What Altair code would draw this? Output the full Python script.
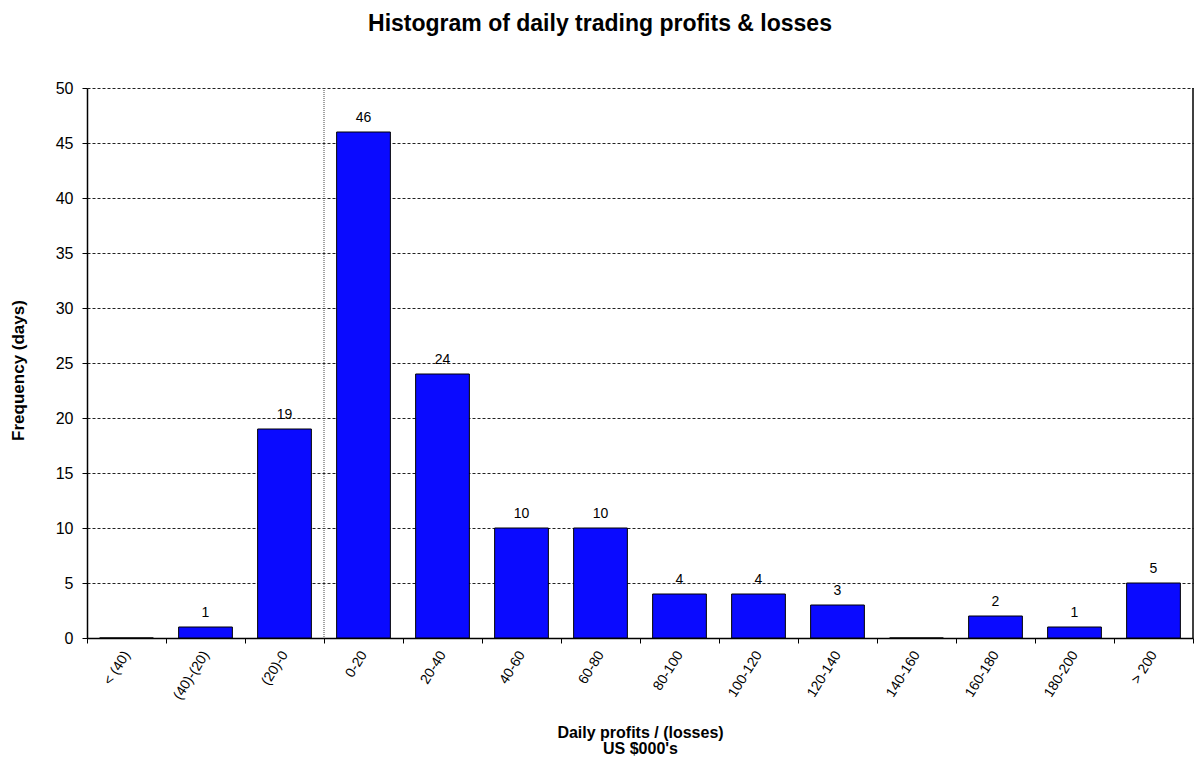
import altair as alt
import pandas as pd

categories = ["< (40)", "(40)-(20)", "(20)-0", "0-20", "20-40", "40-60", "60-80",
              "80-100", "100-120", "120-140", "140-160", "160-180", "180-200", "> 200"]
frequency = [0, 1, 19, 46, 24, 10, 10, 4, 4, 3, 0, 2, 1, 5]

df = pd.DataFrame({"cat": categories, "freq": frequency})
sep_df = pd.DataFrame({"cat": ["0-20"]})
edge_df = pd.DataFrame({"cat": ["> 200"]})

FONT = "Liberation Sans"

xscale = alt.Scale(paddingInner=0, paddingOuter=0)

x_axis = alt.Axis(
    labelAngle=-58, labelAlign="right", labelBaseline="middle",
    labelFontSize=14, labelPadding=9, labelColor="#000",
    tickBand="extent", tickSize=5, tickColor="#000",
    domainColor="#000", domainWidth=1.5, grid=False,
    title=["Daily profits / (losses)", "US $000's"],
    titleFontSize=16, titleFontWeight="bold", titleColor="#000",
    titleY=86, titleBaseline="top", titleLineHeight=16.5,
)

y_axis = alt.Axis(
    values=list(range(0, 51, 5)), labelFontSize=16, labelColor="#000",
    labelPadding=9, tickSize=5, tickColor="#000",
    domainColor="#000", domainWidth=1.5,
    grid=True, gridDash=[3, 2], gridColor="#222", gridWidth=1,
    title="Frequency (days)", titleFontSize=17, titleFontWeight="bold",
    titleColor="#000", titleX=-69, titleY=282, titleBaseline="middle",
)

bars = alt.Chart(df).mark_bar(
    width=alt.RelativeBandSize(0.68), fill="#0A0AFF", stroke="#000", strokeWidth=1
).encode(
    x=alt.X("cat:N", sort=categories, scale=xscale, axis=x_axis),
    y=alt.Y("freq:Q", scale=alt.Scale(domain=[0, 50], nice=False), axis=y_axis),
)

labels = alt.Chart(df).transform_filter("datum.freq > 0").mark_text(
    dy=-10, fontSize=14, color="#000", baseline="alphabetic"
).encode(
    x=alt.X("cat:N", sort=categories),
    y=alt.Y("freq:Q"),
    text=alt.Text("freq:Q"),
)

sep = alt.Chart(sep_df).mark_rule(color="#444", strokeDash=[1, 1], strokeWidth=1).encode(
    x=alt.X("cat:N", sort=categories, bandPosition=0)
)

edge = alt.Chart(edge_df).mark_rule(color="#000", strokeWidth=1.5).encode(
    x=alt.X("cat:N", sort=categories, bandPosition=1)
)

chart = alt.layer(sep, bars, labels, edge).properties(
    width=1106, height=550,
    padding={"left": 79, "top": 80, "right": 1, "bottom": 120},
    autosize=alt.AutoSizeParams(type="none"),
    title=alt.TitleParams(
        "Histogram of daily trading profits & losses",
        fontSize=23, fontWeight="bold", color="#000", anchor="middle",
        dx=-40, offset=26, baseline="alphabetic", frame="group",
    ),
).configure(font=FONT).configure_view(stroke=None)

chart.save("out.html", embed_options={"renderer": "svg", "actions": False})
